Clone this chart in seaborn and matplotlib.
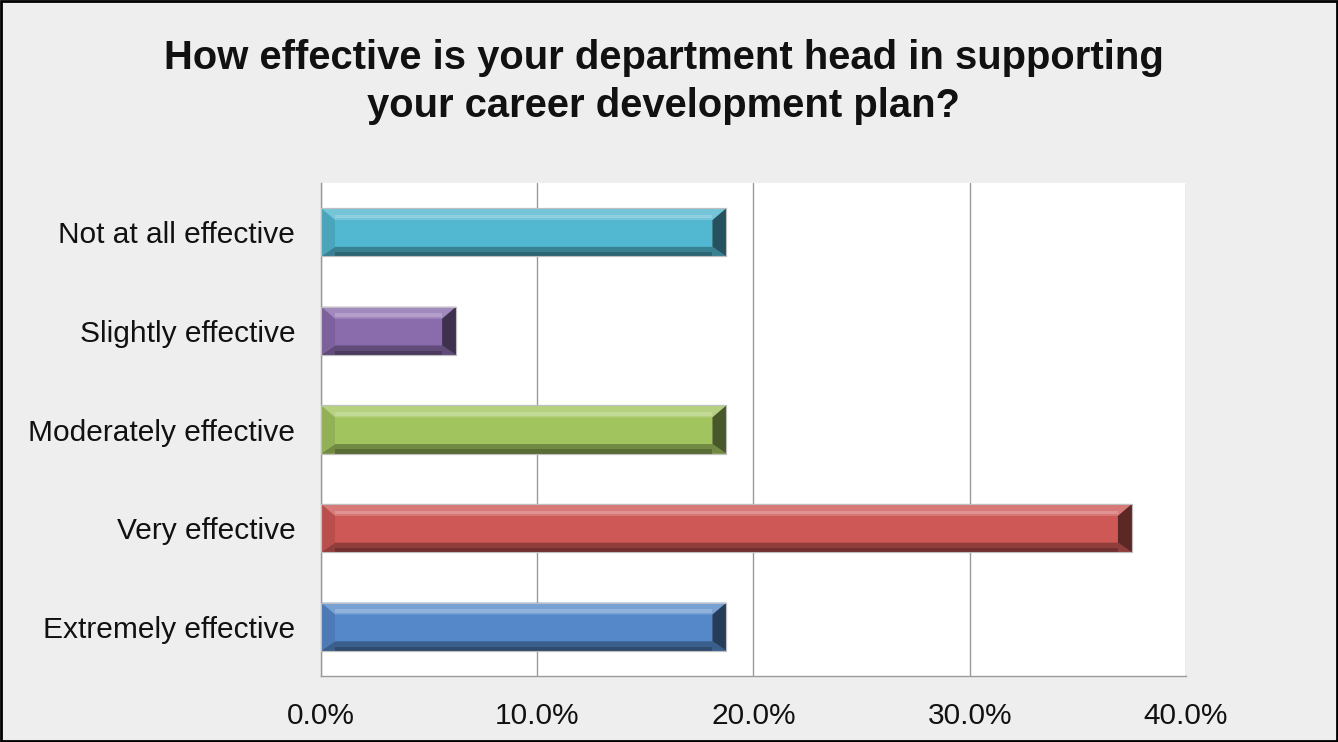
import numpy as np
import pandas as pd
import seaborn as sns
import matplotlib.pyplot as plt
import matplotlib.colors as mcolors
from matplotlib.patches import Polygon, Rectangle
from matplotlib.ticker import FixedLocator, PercentFormatter

# === Data ===
categories = ["Not at all effective", "Slightly effective", "Moderately effective",
              "Very effective", "Extremely effective"]
percent = [18.75, 6.25, 18.75, 37.5, 18.75]
bar_colors = ["#52B7D0", "#8A6CAD", "#A2C45F", "#CD5855", "#5588C8"]
x_ticks = [0, 10, 20, 30, 40]

df = pd.DataFrame({"response": categories, "percent": percent})

sns.set_style("white")
plt.rcParams["font.family"] = ["Liberation Sans", "DejaVu Sans"]

fig = plt.figure(figsize=(13.38, 7.42), dpi=100, facecolor="#EEEEEE")
ax = fig.add_axes([0.2399, 0.0889, 0.6465, 0.6645])
ax.set_facecolor("white")

sns.barplot(data=df, y="response", x="percent", hue="response", palette=bar_colors,
            order=categories, legend=False, width=0.49, ax=ax,
            edgecolor="#B8B8B8", linewidth=0.8, saturation=1)

ax.set_xlim(0, 40)
ax.set_ylim(4.5, -0.5)
ax.set_xlabel("")
ax.set_ylabel("")
ax.xaxis.set_major_locator(FixedLocator(x_ticks))
ax.xaxis.set_major_formatter(PercentFormatter(decimals=1))
ax.grid(axis="x", color="#9A9A9A", linewidth=1.0)
ax.set_axisbelow(True)

for s in ["top", "right"]:
    ax.spines[s].set_visible(False)
for s in ["left", "bottom"]:
    ax.spines[s].set_color("#9A9A9A")
    ax.spines[s].set_linewidth(1.0)

ax.tick_params(axis="x", length=7, width=1, color="#9A9A9A", labelsize=21.5, pad=12,
               labelcolor="#111111")
ax.tick_params(axis="y", which="major", length=0, labelsize=21.5, pad=18.5,
               labelcolor="#111111")
ax.yaxis.set_minor_locator(FixedLocator(np.arange(-0.5, 5, 1.0)))
ax.tick_params(axis="y", which="minor", length=7, width=1, color="#9A9A9A")

# === Bevel effect on bars ===
fig.canvas.draw()
inv = ax.transData.inverted()
p0 = inv.transform((0, 0))
p1 = inv.transform((14, 12))
dx = abs(p1[0] - p0[0])
dy = abs(p1[1] - p0[1])


def shade(c, f):
    r = np.array(mcolors.to_rgb(c))
    if f > 0:
        r = r + (1 - r) * f
    else:
        r = r * (1 + f)
    return r


for patch, col in zip(ax.patches, bar_colors):
    x0, y0 = patch.get_x(), patch.get_y()
    w, h = patch.get_width(), patch.get_height()
    ytop, ybot = min(y0, y0 + h), max(y0, y0 + h)
    x1 = x0 + w
    ddx = min(dx, w / 3)
    # top (lighter)
    ax.add_patch(Polygon([(x0, ytop), (x1, ytop), (x1 - ddx, ytop + dy), (x0 + ddx, ytop + dy)],
                         closed=True, color=shade(col, 0.2), lw=0, zorder=3))
    ax.add_patch(Rectangle((x0 + ddx, ytop + dy * 0.55), w - 2 * ddx, dy * 0.3,
                           color=shade(col, 0.35), lw=0, zorder=3))
    # bottom (darker)
    ax.add_patch(Polygon([(x0, ybot), (x1, ybot), (x1 - ddx, ybot - dy * 0.8), (x0 + ddx, ybot - dy * 0.8)],
                         closed=True, color=shade(col, -0.3), lw=0, zorder=3))
    ax.add_patch(Rectangle((x0 + ddx, ybot - dy * 0.35), w - 2 * ddx, dy * 0.35,
                           color=shade(col, -0.45), lw=0, zorder=3))
    # left end
    ax.add_patch(Polygon([(x0, ytop), (x0 + ddx, ytop + dy), (x0 + ddx, ybot - dy * 0.8), (x0, ybot)],
                         closed=True, color=shade(col, -0.1), lw=0, zorder=3))
    # right end (dark)
    ax.add_patch(Polygon([(x1, ytop), (x1 - ddx, ytop + dy), (x1 - ddx, ybot - dy * 0.8), (x1, ybot)],
                         closed=True, color=shade(col, -0.55), lw=0, zorder=3))
    ax.add_patch(Rectangle((x0, ytop), w, ybot - ytop, fill=False,
                           edgecolor="#BFBFBF", lw=0.8, zorder=4))

fig.text(0.496, 0.922, "How effective is your department head in supporting",
         ha="center", va="center", fontsize=28.8, fontweight="bold", color="#111111")
fig.text(0.496, 0.857, "your career development plan?",
         ha="center", va="center", fontsize=28.8, fontweight="bold", color="#111111")

fig.patches.append(Rectangle((0.001, 0.002), 0.998, 0.996, transform=fig.transFigure,
                             fill=False, edgecolor="black", linewidth=2))

plt.savefig("out.png", dpi=100, facecolor=fig.get_facecolor())
plt.close()
